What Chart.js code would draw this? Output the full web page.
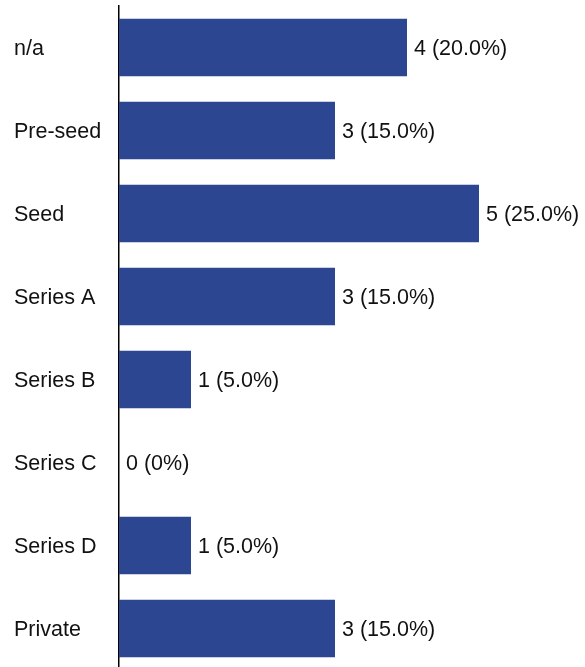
<!DOCTYPE html>
<html>
<head>
<meta charset="utf-8">
<script src="https://cdn.jsdelivr.net/npm/chart.js@4.4.1/dist/chart.umd.min.js"></script>
<style>
  html, body { margin: 0; padding: 0; background: #fff; overflow: hidden; }
  #wrap { width: 585px; height: 670px; position: relative; }
</style>
</head>
<body>
<div id="wrap"><canvas id="chart"></canvas></div>
<script>
const categories = ['n/a', 'Pre-seed', 'Seed', 'Series A', 'Series B', 'Series C', 'Series D', 'Private']
const counts = [4, 3, 5, 3, 1, 0, 1, 3]

const total = counts.reduce((a, b) => a + b, 0)

function labelFor(v){
    let pct = v === 0 ? '0%' : (v / total * 100).toFixed(1) + '%'
    return v + ' (' + pct + ')'
}

// text at the end of each bar
const valueLabels = {
    id: 'valueLabels',
    afterDatasetsDraw(chart){
        let ctx = chart.ctx
        let meta = chart.getDatasetMeta(0)
        ctx.save()
        ctx.font = '21.5px "Liberation Sans", Arial, sans-serif'
        ctx.fillStyle = '#111'
        ctx.textAlign = 'left'
        ctx.textBaseline = 'middle'
        meta.data.forEach((bar, i) => {
            ctx.fillText(labelFor(counts[i]), bar.x + 7, bar.y + 2)
        })
        ctx.restore()
    }
}

new Chart(document.getElementById('chart'), {
    type: 'bar',
    data: {
        labels: categories,
        datasets: [{
            data: counts,
            backgroundColor: 'rgb(44, 70, 145)',
            borderWidth: 0,
            barPercentage: 0.69,
            categoryPercentage: 1
        }]
    },
    options: {
        indexAxis: 'y',
        responsive: true,
        maintainAspectRatio: false,
        animation: false,
        layout: { padding: { top: 6, left: 14, right: 0, bottom: 0 } },
        plugins: {
            legend: { display: false },
            tooltip: { enabled: false }
        },
        scales: {
            x: {
                display: false,
                min: 0,
                max: 466 / 72
            },
            y: {
                grid: { display: false, drawTicks: false },
                border: { display: true, color: '#000', width: 1.5 },
                ticks: {
                    crossAlign: 'far',
                    padding: 0,
                    labelOffset: 2,
                    color: '#111',
                    font: { family: '"Liberation Sans", Arial, sans-serif', size: 21.5 }
                },
                afterFit(scale){
                    scale.width = 105
                    scale.paddingTop = 0
                    scale.paddingBottom = 0
                }
            }
        }
    },
    plugins: [valueLabels]
})
</script>
</body>
</html>
